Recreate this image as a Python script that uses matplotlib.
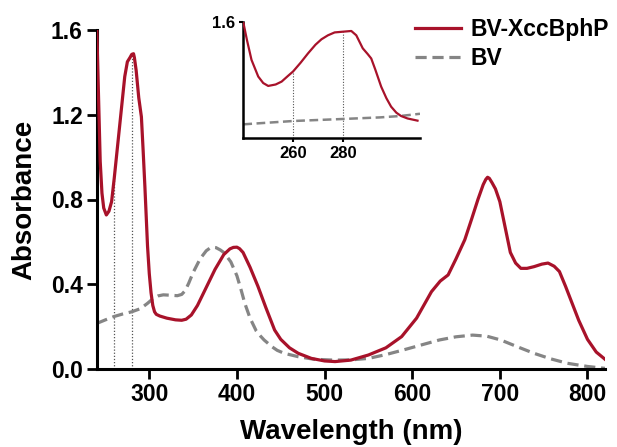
import matplotlib
matplotlib.use('Agg')
import matplotlib.pyplot as plt
import numpy as np

# ---------------- data ----------------
wl_red = [240, 242, 244, 246, 248, 251, 254, 257, 260, 263, 266, 269, 272, 275, 278,
          280, 282, 283, 285, 288, 291, 293, 295, 298, 300, 302, 304, 306, 308, 312,
          320, 330, 337, 342, 348, 355, 365, 375, 385, 392, 396, 400, 403, 407, 415,
          424, 433, 443, 450, 460, 470, 485, 500, 512, 530, 550, 570, 588, 605, 622,
          632, 641, 650, 660, 668, 675, 681, 684, 686, 688, 691, 695, 700, 706, 712,
          718, 724, 731, 739, 748, 755, 762, 768, 775, 781, 790, 800, 810, 820]
abs_red = [1.62, 1.30, 0.98, 0.83, 0.76, 0.727, 0.745, 0.79, 0.90, 1.02, 1.14, 1.26, 1.38, 1.45, 1.47,
           1.485, 1.488, 1.47, 1.41, 1.28, 1.19, 1.03, 0.86, 0.58, 0.45, 0.36, 0.30, 0.27, 0.258, 0.25,
           0.24, 0.232, 0.23, 0.235, 0.255, 0.30, 0.385, 0.47, 0.54, 0.567, 0.574, 0.575, 0.568, 0.55, 0.48,
           0.39, 0.29, 0.184, 0.14, 0.10, 0.074, 0.05, 0.038, 0.035, 0.042, 0.066, 0.10, 0.153, 0.24, 0.365,
           0.415, 0.444, 0.52, 0.61, 0.71, 0.80, 0.87, 0.895, 0.905, 0.90, 0.88, 0.85, 0.79, 0.67, 0.55,
           0.50, 0.475, 0.475, 0.483, 0.495, 0.50, 0.485, 0.46, 0.39, 0.326, 0.23, 0.14, 0.08, 0.046]

wl_bv = [240, 250, 260, 270, 280, 290, 298, 305, 310, 316, 325, 332, 337, 341, 345,
         350, 358, 365, 369, 372, 376, 381, 385, 393, 400, 405, 409, 415, 422, 427,
         431, 440, 446, 454, 470, 488, 510, 530, 550, 570, 590, 610, 631, 650, 669,
         685, 701, 720, 739, 758, 777, 800, 820]
abs_bv = [0.215, 0.232, 0.248, 0.26, 0.27, 0.285, 0.31, 0.335, 0.345, 0.35, 0.348, 0.346, 0.352, 0.37, 0.405,
          0.455, 0.52, 0.558, 0.57, 0.575, 0.573, 0.562, 0.55, 0.506, 0.44, 0.37, 0.31, 0.24, 0.18, 0.155,
          0.137, 0.105, 0.088, 0.074, 0.058, 0.046, 0.042, 0.043, 0.05, 0.068, 0.09, 0.113, 0.137, 0.152, 0.16,
          0.155, 0.137, 0.105, 0.074, 0.048, 0.027, 0.012, 0.003]

# inset (zoom of the UV region)
inset_wl_red = [240, 241.5, 243.3, 246, 248, 250, 253, 255.4, 258, 260, 263, 266, 269, 271.4, 274,
                276.7, 280, 283.4, 285.4, 288, 290, 291.4, 293, 295.4, 297.5, 299.4, 301.5, 303.4, 306, 310]
inset_abs_red = [1.60, 1.35, 1.08, 0.85, 0.76, 0.72, 0.74, 0.78, 0.86, 0.92, 1.04, 1.17, 1.29, 1.365, 1.42,
                 1.46, 1.47, 1.48, 1.42, 1.24, 1.16, 1.10, 0.95, 0.71, 0.55, 0.433, 0.35, 0.304, 0.27, 0.24]
inset_wl_bv = [240, 260, 280, 295, 303, 311]
inset_abs_bv = [0.189, 0.235, 0.263, 0.285, 0.304, 0.335]

marker_wl = [260, 280]

x_ticks = [300, 400, 500, 600, 700, 800]
y_ticks = [0.0, 0.4, 0.8, 1.2, 1.6]
inset_x_ticks = [260, 280]
inset_y_ticks = [1.6]

labels = ['BV-XccBphP', 'BV']

RED = '#A8122A'
GRAY = '#858585'
DOT = '#555555'

plt.rcParams['font.family'] = ['Liberation Sans', 'DejaVu Sans']
plt.rcParams['font.weight'] = 'bold'

W, H = 617, 447
fig = plt.figure(figsize=(W / 100, H / 100), dpi=100)
fig.patch.set_facecolor('white')

# ---------------- main axes ----------------
ax = fig.add_axes([96.7 / W, (H - 369) / H, (605 - 96.7) / W, (369 - 30) / H])
l1, = ax.plot(wl_red, abs_red, color=RED, lw=2.3, solid_joinstyle='round', zorder=3)
l2, = ax.plot(wl_bv, abs_bv, color=GRAY, lw=2.3, ls=(0, (3.5, 1.8)), zorder=2)
for w in marker_wl:
    ax.vlines(w, 0, np.interp(w, wl_red, abs_red), colors=DOT, lw=0.9,
              linestyles=(0, (1, 1.5)), zorder=1)

ax.set_xlim(240, 820)
ax.set_ylim(0, 1.6)
ax.set_xticks(x_ticks)
ax.set_yticks(y_ticks)
ax.set_yticklabels([f'{v:.1f}' for v in y_ticks])
for s in ['top', 'right']:
    ax.spines[s].set_visible(False)
for s in ['left', 'bottom']:
    ax.spines[s].set_linewidth(2.2)
ax.tick_params(direction='out', length=7, width=2.0, labelsize=16.5, pad=3)
for lab in ax.get_xticklabels() + ax.get_yticklabels():
    lab.set_fontweight('bold')
ax.set_xlabel('Wavelength (nm)', fontsize=20, fontweight='bold', labelpad=9.5)
ax.set_ylabel('Absorbance', fontsize=20, fontweight='bold', labelpad=10)
ax.patch.set_alpha(0)

# ---------------- legend ----------------
fig.legend([l1, l2], labels, loc='upper left', bbox_to_anchor=(415 / W, 1 - 18 / H),
           frameon=False, handlelength=2.0, handletextpad=0.4,
           labelspacing=0.25, borderpad=0, borderaxespad=0,
           prop={'weight': 'bold', 'size': 16.5})

# ---------------- inset ----------------
axi = fig.add_axes([243.3 / W, (H - 138) / H, (420 - 243.3) / W, (138 - 22.3) / H])
axi.plot(inset_wl_red, inset_abs_red, color=RED, lw=1.6, zorder=3)
axi.plot(inset_wl_bv, inset_abs_bv, color=GRAY, lw=1.8, ls=(0, (3.5, 1.8)), zorder=2)
for w in marker_wl:
    axi.vlines(w, 0, np.interp(w, inset_wl_red, inset_abs_red), colors=DOT, lw=0.8,
               linestyles=(0, (1, 1.5)), zorder=1)
axi.set_xlim(240, 311)
axi.set_ylim(0, 1.6)
axi.set_xticks(inset_x_ticks)
axi.set_yticks(inset_y_ticks)
axi.set_yticklabels([f'{v:.1f}' for v in inset_y_ticks])
for s in ['top', 'right']:
    axi.spines[s].set_visible(False)
for s in ['left', 'bottom']:
    axi.spines[s].set_linewidth(1.8)
axi.tick_params(direction='out', length=3, width=1.5, labelsize=12, pad=3)
for lab in axi.get_xticklabels() + axi.get_yticklabels():
    lab.set_fontweight('bold')
axi.patch.set_alpha(0)

fig.savefig('out.png', dpi=100, facecolor='white')
